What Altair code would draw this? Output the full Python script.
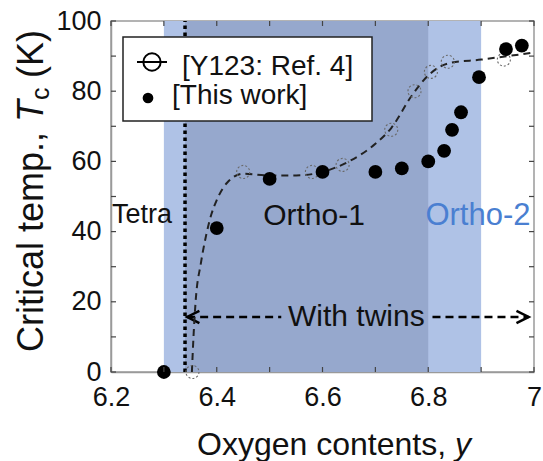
import altair as alt
import pandas as pd

# ---------------- data ----------------
# Y123 reference (open circles)
y_ref = [6.354, 6.45, 6.58, 6.638, 6.73, 6.774, 6.805, 6.837, 6.943]
tc_ref = [0, 57, 57, 59, 69, 80, 85.5, 88.4, 89]
# dashed guide curve through the reference data
y_fit = [6.353, 6.356, 6.36, 6.37, 6.38, 6.39, 6.40, 6.42, 6.45, 6.50, 6.55,
         6.60, 6.65, 6.70, 6.73, 6.77, 6.80, 6.84, 6.90, 6.95, 7.0]
tc_fit = [0, 10, 20, 31, 39, 45, 49, 54, 56.5, 56, 56,
          57, 60, 65, 69.5, 79, 84.5, 88, 89, 90, 91]
# This work (filled circles)
y_this = [6.30, 6.40, 6.50, 6.60, 6.70, 6.75, 6.80, 6.83, 6.845, 6.862, 6.896, 6.947, 6.977]
tc_this = [0, 41, 55, 57, 57, 58, 60, 63, 69, 74, 84, 92, 93]

# shaded phase regions
band_lo = [6.30, 6.34]
band_hi = [6.90, 6.80]
band_color = ["#afc2e6", "#96a8cd"]
tetra_boundary = [6.34]

# tick values
x_major = [6.2, 6.4, 6.6, 6.8, 7.0]
x_minor = [6.2, 6.3, 6.4, 6.5, 6.6, 6.7, 6.8, 6.9, 7.0]
y_major = [0, 20, 40, 60, 80, 100]
y_minor = [0, 10, 20, 30, 40, 50, 60, 70, 80, 90, 100]

# annotations
phase_text = ["Tetra", "Ortho-1", "Ortho-2"]
phase_x = [6.2, 6.584, 6.894]
phase_y = [44.7, 44.4, 44.4]
twin_label = ["With twins"]
twin_x = [6.664]
twin_y = [15.7]
arrow_x0 = [6.344, 6.808]
arrow_x1 = [6.522, 6.99]
legend_labels = ["[Y123: Ref. 4]", "[This work]"]

# ---------------- chart ----------------
W, H = 423, 351
FONT = "Liberation Sans"
INK = "#111111"

xs = alt.Scale(domain=[6.2, 7.0], nice=False, zero=False)
ys = alt.Scale(domain=[0, 100], nice=False, zero=False)
xa = alt.Axis(values=x_major, format="~g", ticks=False, grid=False, title=None,
              labelFontSize=27, labelFont=FONT, labelColor=INK, labelPadding=12,
              labelFlush=False, domainColor="#9a9a9a", domainWidth=1.5)
ya = alt.Axis(values=y_major, format="d", ticks=False, grid=False, title=None,
              labelFontSize=27, labelFont=FONT, labelColor=INK, labelPadding=10,
              labelFlush=False, domainColor="#9a9a9a", domainWidth=1.5)


def X(f):
    return alt.X(f, type="quantitative", scale=xs, axis=xa)


def Y(f):
    return alt.Y(f, type="quantitative", scale=ys, axis=ya)


one = pd.DataFrame({"k": [0]})

bands_df = pd.DataFrame({"lo": band_lo, "hi": band_hi, "c": band_color,
                         "b": [0, 0], "t": [100, 100]})
bands = alt.Chart(bands_df).mark_rect(opacity=1).encode(
    x=X("lo"), x2="hi", y=Y("b"), y2="t", color=alt.Color("c:N", scale=None))

dot_df = pd.DataFrame({"x": tetra_boundary, "b": [0], "t": [100]})
dotted = alt.Chart(dot_df).mark_rule(color="black", strokeWidth=3.5,
                                     strokeDash=[3.5, 3.5]).encode(
    x=X("x"), y=Y("b"), y2="t")

fit_df = pd.DataFrame({"y": y_fit, "tc": tc_fit})
fit = alt.Chart(fit_df).mark_line(color="#222222", strokeWidth=2,
                                  strokeDash=[7, 5], interpolate="monotone").encode(
    x=X("y"), y=Y("tc"))

ref_df = pd.DataFrame({"y": y_ref, "tc": tc_ref})
ref = alt.Chart(ref_df).mark_point(shape="circle", filled=False, stroke="#6a6a6a",
                                   strokeWidth=1.1, strokeDash=[2, 2], size=170,
                                   opacity=1).encode(x=X("y"), y=Y("tc"))

this_df = pd.DataFrame({"y": y_this, "tc": tc_this})
this = alt.Chart(this_df).mark_circle(color="black", size=190, opacity=1).encode(
    x=X("y"), y=Y("tc"))

# inward ticks
xt_df = pd.DataFrame({"v": x_minor})
yt_df = pd.DataFrame({"v": y_minor})
tick_style = dict(color="#444444", strokeWidth=1.2)
xt_bot = alt.Chart(xt_df).mark_rule(**tick_style).encode(
    x=X("v"), y=alt.value(H), y2=alt.value(H - 5))
xt_top = alt.Chart(xt_df).mark_rule(**tick_style).encode(
    x=X("v"), y=alt.value(0), y2=alt.value(5))
yt_left = alt.Chart(yt_df).mark_rule(**tick_style).encode(
    y=Y("v"), x=alt.value(0), x2=alt.value(5))
yt_right = alt.Chart(yt_df).mark_rule(**tick_style).encode(
    y=Y("v"), x=alt.value(W - 5), x2=alt.value(W))

# phase labels
ph_df = pd.DataFrame({"t": phase_text, "x": phase_x, "y": phase_y})
tetra = alt.Chart(ph_df.iloc[[0]]).mark_text(
    align="left", baseline="middle", fontSize=27, font=FONT, color=INK, dx=1).encode(
    x=X("x"), y=Y("y"), text="t:N")
ortho1 = alt.Chart(ph_df.iloc[[1]]).mark_text(
    align="center", baseline="middle", fontSize=30, font=FONT, color=INK).encode(
    x=X("x"), y=Y("y"), text="t:N")
ortho2 = alt.Chart(ph_df.iloc[[2]]).mark_text(
    align="center", baseline="middle", fontSize=31, font=FONT, color="#4a7fd1").encode(
    x=X("x"), y=Y("y"), text="t:N")

# twins arrow
arr_df = pd.DataFrame({"a": arrow_x0, "b": arrow_x1, "y": twin_y * 2})
arrow_lines = alt.Chart(arr_df).mark_rule(color="black", strokeWidth=2.5,
                                          strokeDash=[8, 5]).encode(
    x=X("a"), x2="b", y=Y("y"))
head_df = pd.DataFrame({"x": [arrow_x0[0], arrow_x1[1]], "y": twin_y * 2,
                        "s": ["M2,-1L0,0L2,1", "M-2,-1L0,0L-2,1"]})
heads = alt.Chart(head_df).mark_point(filled=False, stroke="black", strokeWidth=2.5,
                                      size=150, opacity=1).encode(
    x=X("x"), y=Y("y"), shape=alt.Shape("s:N", scale=None))
tw_df = pd.DataFrame({"t": twin_label, "x": twin_x, "y": twin_y})
twins = alt.Chart(tw_df).mark_text(align="center", baseline="middle", fontSize=30,
                                   font=FONT, color=INK).encode(
    x=X("x"), y=Y("y"), text="t:N")

# legend (drawn manually)
leg_box = alt.Chart(one).mark_rect(fill="white", stroke="#222222", strokeWidth=1.5).encode(
    x=alt.value(12), x2=alt.value(261), y=alt.value(16), y2=alt.value(100))
leg_line = alt.Chart(one).mark_rule(color="black", strokeWidth=2).encode(
    x=alt.value(26), x2=alt.value(56), y=alt.value(41))
leg_open = alt.Chart(one).mark_point(shape="circle", filled=False, stroke="black",
                                     strokeWidth=2, size=300, opacity=1).encode(
    x=alt.value(41), y=alt.value(41))
leg_fill = alt.Chart(one).mark_circle(color="black", size=115, opacity=1).encode(
    x=alt.value(37), y=alt.value(77))
leg_df = pd.DataFrame({"t": legend_labels})
leg_t1 = alt.Chart(leg_df.iloc[[0]]).mark_text(
    align="left", baseline="alphabetic", fontSize=28, font=FONT, color=INK).encode(
    x=alt.value(71), y=alt.value(54), text="t:N")
leg_t2 = alt.Chart(leg_df.iloc[[1]]).mark_text(
    align="left", baseline="alphabetic", fontSize=28, font=FONT, color=INK).encode(
    x=alt.value(61), y=alt.value(83), text="t:N")

# axis titles with mixed styles
yt_df1 = pd.DataFrame({"t": ["Critical temp.,", "T", "c", "(K)"]})
ytitle_style = dict(angle=270, align="left", baseline="alphabetic", font=FONT, color=INK)
yt1 = alt.Chart(yt_df1.iloc[[0]]).mark_text(fontSize=36, **ytitle_style).encode(
    x=alt.value(-68), y=alt.value(331), text="t:N")
yt2 = alt.Chart(yt_df1.iloc[[1]]).mark_text(fontSize=36, fontStyle="italic", **ytitle_style).encode(
    x=alt.value(-68), y=alt.value(101), text="t:N")
yt3 = alt.Chart(yt_df1.iloc[[2]]).mark_text(fontSize=25, **ytitle_style).encode(
    x=alt.value(-62), y=alt.value(79), text="t:N")
yt4 = alt.Chart(yt_df1.iloc[[3]]).mark_text(fontSize=36, **ytitle_style).encode(
    x=alt.value(-68), y=alt.value(57), text="t:N")

xt_title_df = pd.DataFrame({"t": ["Oxygen contents,", "y"]})
xt1 = alt.Chart(xt_title_df.iloc[[0]]).mark_text(
    align="left", baseline="alphabetic", fontSize=32, font=FONT, color=INK).encode(
    x=alt.value(86), y=alt.value(434), text="t:N")
xt2 = alt.Chart(xt_title_df.iloc[[1]]).mark_text(
    align="left", baseline="alphabetic", fontSize=32, fontStyle="italic", font=FONT,
    color=INK).encode(x=alt.value(344), y=alt.value(434), text="t:N")

chart = alt.layer(
    bands, dotted, arrow_lines, heads, twins, fit, ref, this,
    tetra, ortho1, ortho2,
    xt_bot, xt_top, yt_left, yt_right,
    leg_box, leg_line, leg_open, leg_fill, leg_t1, leg_t2,
    yt1, yt2, yt3, yt4, xt1, xt2,
).properties(
    width=W, height=H,
    autosize=alt.AutoSizeParams(type="none"),
    padding={"left": 111, "top": 21, "right": 9, "bottom": 89},
    background="white",
).configure_view(stroke="#9a9a9a", strokeWidth=1.5)

chart.save("out.html", embed_options={"renderer": "svg", "actions": False})
